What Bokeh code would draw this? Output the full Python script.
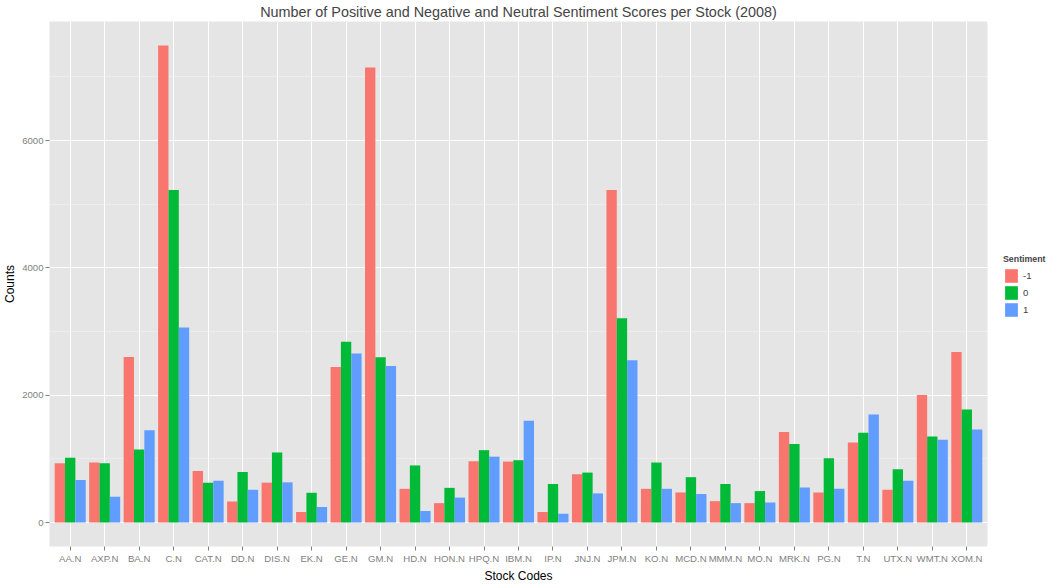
from bokeh.plotting import figure
from bokeh.layouts import row
from bokeh.models import ColumnDataSource, FactorRange, Range1d, FixedTicker, Legend, LegendItem
from bokeh.transform import dodge
from bokeh.embed import file_html
from bokeh.resources import INLINE

stocks = ["AA.N", "AXP.N", "BA.N", "C.N", "CAT.N", "DD.N", "DIS.N", "EK.N", "GE.N", "GM.N",
          "HD.N", "HON.N", "HPQ.N", "IBM.N", "IP.N", "JNJ.N", "JPM.N", "KO.N", "MCD.N", "MMM.N",
          "MO.N", "MRK.N", "PG.N", "T.N", "UTX.N", "WMT.N", "XOM.N"]
neg = [934, 944, 2602, 7496, 811, 332, 628, 168, 2444, 7150,
       531, 306, 964, 959, 168, 760, 5224, 531, 474, 337,
       306, 1423, 474, 1260, 515, 2005, 2679]
neu = [1020, 934, 1148, 5224, 628, 796, 1102, 469, 2842, 2597,
       898, 546, 1138, 980, 607, 786, 3209, 944, 714, 607,
       495, 1235, 1010, 1413, 837, 1352, 1776]
pos = [668, 408, 1449, 3066, 658, 515, 633, 245, 2658, 2459,
       184, 393, 1036, 1602, 138, 459, 2551, 531, 449, 306,
       316, 551, 531, 1699, 658, 1301, 1464]
sentiments = ["-1", "0", "1"]
colors = ["#F8766D", "#00BA38", "#619CFF"]
y_major = [0, 2000, 4000, 6000]
y_minor = [1000, 3000, 5000, 7000]

FONT = "Liberation Sans"
GREY = "#7F7F7F"
FRAME_W = 938
FRAME_H = 525

src = ColumnDataSource(dict(stock=stocks, neg=neg, neu=neu, pos=pos))

p = figure(x_range=FactorRange(factors=stocks, range_padding=0.1, range_padding_units="absolute"),
           y_range=Range1d(-375, 7871),
           frame_width=FRAME_W, frame_height=FRAME_H,
           min_border_left=0, min_border_right=16, min_border_top=0, min_border_bottom=0,
           output_backend="svg", toolbar_location=None,
           title="Number of Positive and Negative and Neutral Sentiment Scores per Stock (2008)")

p.title.text_font = FONT
p.title.text_font_size = "14.4px"
p.title.text_font_style = "normal"
p.title.align = "center"
p.title.standoff = 3
p.title.offset = 0

p.background_fill_color = "#E5E5E5"
p.border_fill_color = "white"
p.outline_line_color = None

for col, off, c in zip(["neg", "neu", "pos"], [-0.3, 0.0, 0.3], colors):
    p.vbar(x=dodge("stock", off, range=p.x_range), top=col, width=0.3, bottom=0,
           source=src, fill_color=c, line_color=None)

# axes
p.yaxis.ticker = FixedTicker(ticks=y_major, minor_ticks=y_minor)
for ax in (p.xaxis[0], p.yaxis[0]):
    ax.axis_line_color = None
    ax.major_tick_line_color = GREY
    ax.major_tick_out = 4
    ax.major_tick_in = 0
    ax.minor_tick_line_color = None
    ax.major_label_text_font = FONT
    ax.major_label_text_font_size = "9.6px"
    ax.major_label_text_color = GREY
    ax.major_label_standoff = 2
    ax.axis_label_text_font = FONT
    ax.axis_label_text_font_size = "12px"
    ax.axis_label_text_font_style = "normal"
    ax.axis_label_text_color = "black"
    ax.axis_label_standoff = 2
p.xaxis.axis_label = "Stock Codes"
p.yaxis.axis_label = "Counts"

p.xgrid.grid_line_color = "white"
p.xgrid.grid_line_width = 1
p.ygrid.grid_line_color = "white"
p.ygrid.grid_line_width = 1
p.ygrid.minor_grid_line_color = "#F2F2F2"
p.ygrid.minor_grid_line_width = 0.6

# legend panel (separate figure to the right of the plot); its swatch renderers
# hold one point placed outside the visible range, so only the legend shows them
lf = figure(width=44, height=571, x_range=(0, 1), y_range=(0, 1),
            x_axis_location=None, y_axis_location=None,
            min_border_left=0, min_border_right=0, min_border_top=0, min_border_bottom=0,
            output_backend="svg", toolbar_location=None)
lf.grid.visible = False
lf.outline_line_color = None
lf.background_fill_color = "white"
lf.border_fill_color = "white"
lrs = [lf.vbar(x=[5], top=[6], bottom=[5], width=0.1, fill_color=c, line_color=None) for c in colors]

legend = Legend(items=[LegendItem(label=s, renderers=[r]) for s, r in zip(sentiments, lrs)],
                location=(0, 214))
legend.title = "Sentiment"
legend.title_text_font = FONT
legend.title_text_font_size = "8.8px"
legend.title_text_font_style = "bold"
legend.title_standoff = 3
legend.label_text_font = FONT
legend.label_text_font_size = "9.6px"
legend.label_standoff = 4
legend.glyph_width = 16
legend.glyph_height = 17
legend.label_height = 17
legend.spacing = 0
legend.padding = 0
legend.margin = 0
legend.border_line_color = None
legend.background_fill_alpha = 0
lf.add_layout(legend, "center")

layout = row(p, lf, spacing=0)
open("out.html", "w").write(file_html(layout, INLINE))
